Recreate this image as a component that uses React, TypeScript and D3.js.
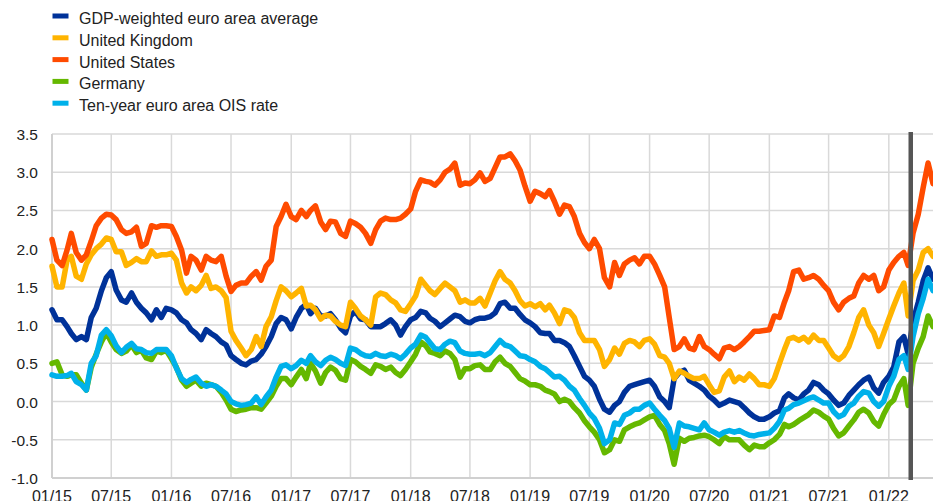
import React, { useRef, useEffect } from 'react';
import * as d3 from 'd3';

// observations on the 1st and 16th of each month, Jan 2015 - May 2022
const obsDates: Date[] = [];
for (let y = 2015; y <= 2022; y++) {
  for (let m = 0; m < 12; m++) {
    if (y === 2022 && m > 4) break;
    obsDates.push(new Date(Date.UTC(y, m, 1)));
    obsDates.push(new Date(Date.UTC(y, m, 16)));
  }
}

const gdpWeighted = [
  1.2, 1.07, 1.07, 0.98, 0.89, 0.81, 0.85, 0.81, 1.1, 1.22, 1.45, 1.62, 1.7, 1.46, 1.33, 1.3, 1.42, 1.3, 1.22, 1.16, 1.07, 1.2, 1.1, 1.22,
  1.2, 1.16, 1.07, 1.03, 0.94, 0.89, 0.81, 0.94, 0.89, 0.85, 0.78, 0.74, 0.6, 0.55, 0.5, 0.48, 0.53, 0.55, 0.62, 0.72, 0.85, 1.02, 1.1, 1.07,
  0.95, 1.1, 1.22, 1.27, 1.15, 1.22, 1.12, 1.12, 1.15, 1.07, 0.96, 0.9, 1.12, 1.18, 1.08, 1.07, 0.98, 0.98, 0.98, 1.02, 1.07, 1.0, 0.87, 0.98,
  1.07, 1.1, 1.18, 1.16, 1.09, 1.05, 0.98, 1.03, 1.08, 1.13, 1.11, 1.05, 1.03, 1.07, 1.09, 1.09, 1.11, 1.16, 1.28, 1.3, 1.22, 1.22, 1.14, 1.07,
  1.03, 0.98, 0.9, 0.89, 0.89, 0.8, 0.8, 0.77, 0.72, 0.6, 0.46, 0.33, 0.28, 0.2, 0.03, -0.1, -0.14, -0.05, 0.0, 0.12, 0.2, 0.22, 0.24, 0.26,
  0.28, 0.2, 0.06, 0.0, -0.08, 0.3, 0.38, 0.41, 0.28, 0.24, 0.2, 0.15, 0.07, 0.02, -0.05, -0.02, 0.02, 0.0, -0.02, -0.08, -0.15, -0.2, -0.23, -0.23,
  -0.2, -0.15, -0.12, 0.05, 0.1, 0.05, 0.02, 0.1, 0.15, 0.25, 0.22, 0.15, 0.1, 0.02, -0.05, -0.02, 0.08, 0.15, 0.22, 0.28, 0.32, 0.18, 0.11, 0.25,
  0.33, 0.45, 0.78, 0.85, 0.62, 1.05, 1.3, 1.58, 1.75, 1.6,
];

const unitedKingdom = [
  1.77, 1.5, 1.5, 1.85, 1.9, 1.64, 1.6, 1.8, 1.92, 2.0, 2.06, 2.14, 2.12, 1.96, 1.96, 1.78, 1.82, 1.87, 1.83, 1.83, 1.97, 1.9, 1.92, 1.92,
  1.94, 1.85, 1.55, 1.42, 1.5, 1.45, 1.52, 1.65, 1.48, 1.5, 1.45, 1.36, 0.92, 0.8, 0.7, 0.6, 0.68, 0.85, 0.72, 0.98, 1.11, 1.32, 1.5, 1.45,
  1.37, 1.42, 1.48, 1.25, 1.26, 1.2, 1.08, 1.13, 1.12, 1.05, 1.0, 0.98, 1.3, 1.22, 1.12, 1.07, 1.0, 1.37, 1.42, 1.4, 1.33, 1.29, 1.2, 1.18,
  1.28, 1.38, 1.6, 1.52, 1.45, 1.4, 1.48, 1.55, 1.5, 1.45, 1.3, 1.33, 1.29, 1.29, 1.35, 1.25, 1.42, 1.58, 1.7, 1.6, 1.55, 1.45, 1.32, 1.25,
  1.28, 1.24, 1.28, 1.2, 1.26, 1.16, 1.02, 1.2, 1.18, 1.1, 0.9, 0.8, 0.8, 0.8, 0.68, 0.46, 0.55, 0.7, 0.62, 0.76, 0.8, 0.78, 0.72, 0.8,
  0.82, 0.75, 0.6, 0.58, 0.5, 0.3, 0.4, 0.37, 0.33, 0.3, 0.3, 0.33, 0.22, 0.12, 0.14, 0.32, 0.4, 0.26, 0.32, 0.28, 0.36, 0.3, 0.22, 0.22,
  0.2, 0.3, 0.5, 0.68, 0.82, 0.84, 0.8, 0.84, 0.78, 0.87, 0.8, 0.8, 0.7, 0.6, 0.55, 0.6, 0.72, 0.9, 1.1, 1.2, 1.0, 0.9, 0.72, 0.89,
  1.08, 1.25, 1.42, 1.55, 1.12, 1.58, 1.72, 1.95, 2.0, 1.9,
];

const unitedStates = [
  2.12, 1.85, 1.78, 1.98, 2.2, 1.95, 1.85, 1.92, 2.1, 2.3, 2.4, 2.45, 2.44, 2.38, 2.25, 2.2, 2.22, 2.28, 2.03, 2.07, 2.3, 2.28, 2.3, 2.3,
  2.29, 2.16, 1.98, 1.68, 1.9, 1.85, 1.72, 1.9, 1.85, 1.83, 1.9, 1.64, 1.44, 1.52, 1.55, 1.55, 1.64, 1.7, 1.59, 1.77, 1.85, 2.29, 2.42, 2.58,
  2.42, 2.38, 2.5, 2.42, 2.5, 2.56, 2.35, 2.25, 2.36, 2.35, 2.2, 2.16, 2.36, 2.33, 2.28, 2.2, 2.07, 2.25, 2.36, 2.4, 2.38, 2.38, 2.4, 2.45,
  2.52, 2.75, 2.9, 2.88, 2.87, 2.83, 2.9, 3.0, 3.04, 3.12, 2.83, 2.86, 2.85, 2.9, 2.99, 2.88, 2.92, 3.06, 3.2, 3.2, 3.24, 3.15, 3.03, 2.82,
  2.62, 2.75, 2.72, 2.68, 2.76, 2.62, 2.45, 2.57, 2.55, 2.42, 2.2, 2.08, 2.0, 2.12, 2.0, 1.62, 1.5, 1.82, 1.65, 1.8, 1.85, 1.88, 1.8, 1.9,
  1.9, 1.8, 1.65, 1.5, 1.1, 0.68, 0.72, 0.82, 0.7, 0.68, 0.85, 0.72, 0.68, 0.62, 0.56, 0.7, 0.72, 0.68, 0.72, 0.78, 0.85, 0.92, 0.92, 0.93,
  0.94, 1.12, 1.1, 1.3, 1.45, 1.7, 1.72, 1.6, 1.62, 1.65, 1.6, 1.52, 1.45, 1.3, 1.2, 1.3, 1.35, 1.38, 1.55, 1.65, 1.6, 1.65, 1.45, 1.5,
  1.72, 1.82, 1.9, 1.95, 1.78, 2.2, 2.45, 2.8, 3.12, 2.85,
];

const germany = [
  0.5, 0.52, 0.35, 0.33, 0.35, 0.35, 0.24, 0.15, 0.45, 0.62, 0.78, 0.9, 0.78, 0.68, 0.63, 0.66, 0.74, 0.64, 0.67, 0.57, 0.55, 0.66, 0.64, 0.67,
  0.56, 0.45, 0.28, 0.2, 0.24, 0.28, 0.2, 0.24, 0.22, 0.2, 0.12, 0.02, -0.1, -0.13, -0.11, -0.1, -0.08, -0.08, -0.1, -0.02, 0.07, 0.2, 0.3, 0.3,
  0.22, 0.32, 0.42, 0.3, 0.5, 0.4, 0.24, 0.38, 0.45, 0.41, 0.3, 0.28, 0.55, 0.52, 0.46, 0.42, 0.37, 0.48, 0.46, 0.42, 0.45, 0.38, 0.34, 0.42,
  0.52, 0.62, 0.78, 0.73, 0.65, 0.63, 0.6, 0.66, 0.63, 0.55, 0.32, 0.43, 0.43, 0.47, 0.48, 0.42, 0.42, 0.52, 0.58, 0.5, 0.46, 0.38, 0.3, 0.27,
  0.22, 0.22, 0.2, 0.15, 0.13, 0.1, 0.0, 0.03, 0.0, -0.08, -0.15, -0.25, -0.33, -0.4, -0.5, -0.67, -0.63, -0.5, -0.52, -0.37, -0.33, -0.3, -0.28, -0.24,
  -0.2, -0.18, -0.3, -0.38, -0.55, -0.82, -0.48, -0.52, -0.48, -0.47, -0.45, -0.44, -0.46, -0.5, -0.55, -0.46, -0.5, -0.5, -0.5, -0.57, -0.63, -0.57, -0.59, -0.59,
  -0.54, -0.5, -0.43, -0.3, -0.33, -0.3, -0.25, -0.21, -0.17, -0.11, -0.14, -0.19, -0.23, -0.35, -0.45, -0.41, -0.32, -0.24, -0.14, -0.1, -0.15, -0.26, -0.32, -0.17,
  -0.04, 0.02, 0.2, 0.3, -0.05, 0.5, 0.7, 0.85, 1.12, 0.98,
];

const oisRate = [
  0.35, 0.33, 0.33, 0.34, 0.37, 0.26, 0.22, 0.15, 0.5, 0.6, 0.87, 0.94, 0.86, 0.73, 0.64, 0.71, 0.76, 0.69, 0.68, 0.64, 0.63, 0.68, 0.68, 0.68,
  0.6, 0.44, 0.3, 0.25, 0.29, 0.32, 0.24, 0.2, 0.22, 0.2, 0.15, 0.1, 0.0, -0.03, -0.05, -0.04, -0.02, 0.06, -0.04, 0.06, 0.15, 0.32, 0.46, 0.48,
  0.43, 0.47, 0.54, 0.5, 0.6, 0.52, 0.47, 0.54, 0.58, 0.55, 0.5, 0.47, 0.7, 0.68, 0.63, 0.6, 0.59, 0.63, 0.6, 0.59, 0.62, 0.6, 0.56, 0.62,
  0.7, 0.75, 0.87, 0.84, 0.77, 0.69, 0.68, 0.75, 0.79, 0.77, 0.66, 0.63, 0.62, 0.62, 0.63, 0.6, 0.64, 0.72, 0.8, 0.74, 0.72, 0.66, 0.6, 0.59,
  0.55, 0.52, 0.46, 0.43, 0.38, 0.32, 0.33, 0.28, 0.2, 0.15, 0.04, -0.05, -0.15, -0.22, -0.35, -0.55, -0.5, -0.28, -0.3, -0.18, -0.15, -0.1, -0.1, -0.05,
  -0.02, -0.1, -0.18, -0.25, -0.35, -0.6, -0.28, -0.32, -0.33, -0.35, -0.37, -0.28, -0.37, -0.4, -0.44, -0.4, -0.38, -0.4, -0.38, -0.41, -0.44, -0.45, -0.43, -0.42,
  -0.41, -0.35, -0.26, -0.11, -0.09, -0.04, -0.02, 0.01, 0.04, 0.06, 0.02, -0.02, -0.02, -0.13, -0.2, -0.17, -0.06, -0.02, 0.07, 0.13, 0.11, 0.0, -0.06, 0.0,
  0.2, 0.33, 0.55, 0.6, 0.42, 0.85, 1.15, 1.35, 1.6, 1.45,
];

const seriesNames = [
  'GDP-weighted euro area average',
  'United Kingdom',
  'United States',
  'Germany',
  'Ten-year euro area OIS rate',
];
const seriesColors = ['#003299', '#ffb400', '#ff4b00', '#65b800', '#00b1ea'];
const seriesValues = [gdpWeighted, unitedKingdom, unitedStates, germany, oisRate];

const yTicks = [-1.0, -0.5, 0.0, 0.5, 1.0, 1.5, 2.0, 2.5, 3.0, 3.5];
const markerDate = new Date(Date.UTC(2022, 2, 9));

function App() {
  const ref = useRef<SVGSVGElement>(null);

  useEffect(() => {
    const svg = d3.select(ref.current);
    svg.selectAll('*').remove();

    const x = d3.scaleUtc()
      .domain([new Date(Date.UTC(2015, 0, 1)), new Date(Date.UTC(2022, 4, 16))])
      .range([52, 933]);
    const y = d3.scaleLinear().domain([-1, 3.5]).range([478, 134]);

    const xTicks = d3.utcMonth.every(6)!.range(new Date(Date.UTC(2015, 0, 1)), new Date(Date.UTC(2022, 0, 2)));
    const fmt = d3.utcFormat('%m/%y');

    const grid = svg.append('g');
    grid.selectAll('line.h').data(yTicks).enter().append('line')
      .attr('x1', 52).attr('x2', 933)
      .attr('y1', d => y(d)).attr('y2', d => y(d))
      .attr('stroke', '#d9d9d9').attr('stroke-width', 1.5);
    grid.selectAll('line.v').data(xTicks).enter().append('line')
      .attr('x1', d => x(d)).attr('x2', d => x(d))
      .attr('y1', 134).attr('y2', 478)
      .attr('stroke', '#d9d9d9').attr('stroke-width', 1.5);
    grid.append('line').attr('x1', 52).attr('x2', 933).attr('y1', 478).attr('y2', 478)
      .attr('stroke', '#d0d0d0').attr('stroke-width', 2);
    grid.append('line').attr('x1', 52).attr('x2', 52).attr('y1', 134).attr('y2', 478)
      .attr('stroke', '#d0d0d0').attr('stroke-width', 2);

    const font = 'Arial, "Liberation Sans", sans-serif';
    svg.append('g').selectAll('text').data(yTicks).enter().append('text')
      .attr('x', 38).attr('y', d => y(d) + 6)
      .attr('text-anchor', 'end')
      .attr('font-family', font).attr('font-size', 15.5).attr('fill', '#222')
      .text(d => d.toFixed(1));
    svg.append('g').selectAll('text').data(xTicks).enter().append('text')
      .attr('x', d => x(d)).attr('y', 501.5)
      .attr('text-anchor', 'middle')
      .attr('font-family', font).attr('font-size', 16).attr('fill', '#222')
      .text(d => fmt(d));

    const line = d3.line<number>()
      .x((_, i) => x(obsDates[i]))
      .y(d => y(d));

    seriesValues.forEach((vals, k) => {
      svg.append('path')
        .attr('d', line(vals))
        .attr('fill', 'none')
        .attr('stroke', seriesColors[k])
        .attr('stroke-width', 5.5)
        .attr('stroke-linejoin', 'round')
        .attr('stroke-linecap', 'round');
    });

    svg.append('line')
      .attr('x1', x(markerDate)).attr('x2', x(markerDate))
      .attr('y1', 132).attr('y2', 480)
      .attr('stroke', '#555').attr('stroke-width', 4.5);

    const legend = svg.append('g');
    seriesNames.forEach((name, k) => {
      const cy = 16 + k * 21.8;
      legend.append('rect')
        .attr('x', 52.5).attr('y', cy - 2.5).attr('width', 16).attr('height', 5)
        .attr('fill', seriesColors[k]);
      legend.append('text')
        .attr('x', 79).attr('y', cy + 8)
        .attr('font-family', font).attr('font-size', 16).attr('fill', '#222')
        .text(name);
    });
  }, []);

  return (
    <svg
      ref={ref}
      width={933}
      height={501}
      style={{ position: 'absolute', left: 0, top: 0, display: 'block', background: '#fff' }}
    />
  );
}

export default App;
